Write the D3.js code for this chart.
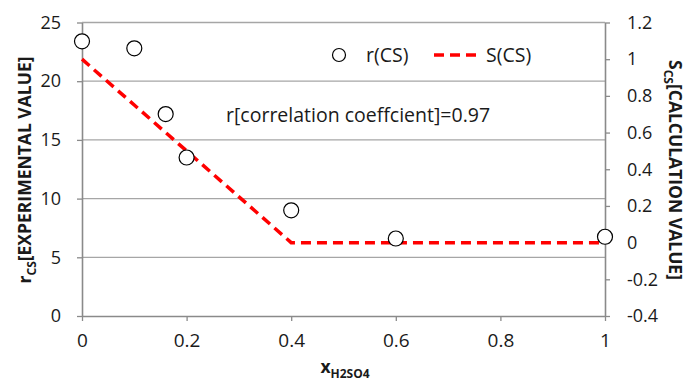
<!DOCTYPE html>
<html><head><meta charset="utf-8">
<script src="https://cdn.jsdelivr.net/npm/d3@7"></script>
<style>body{margin:0;background:#fff}svg{display:block}</style>
</head><body>
<script>
const xValues = [0, 0.1, 0.16, 0.2, 0.4, 0.6, 1];
const rValues = [23.4, 22.8, 17.2, 13.5, 9.0, 6.6, 6.75];
const sX = [0, 0.1, 0.16, 0.2, 0.4, 0.6, 1];
const sValues = [1, 0.75, 0.6, 0.5, 0, 0, 0];
const xTicks = [0, 0.2, 0.4, 0.6, 0.8, 1];
const yLeftTicks = [0, 5, 10, 15, 20, 25];
const yRightTicks = [-0.4, -0.2, 0, 0.2, 0.4, 0.6, 0.8, 1, 1.2];

const W = 687, H = 382;
const m = {l: 82, r: 605, t: 22.5, b: 316};
const font = "'Open Sans', sans-serif";
const txt = "#1a1a1a";
const svg = d3.select("body").append("svg").attr("width", W).attr("height", H);

const x = d3.scaleLinear().domain([0, 1]).range([m.l, m.r]);
const yL = d3.scaleLinear().domain([0, 25]).range([m.b, m.t]);
const yR = d3.scaleLinear().domain([-0.4, 1.2]).range([m.b, m.t]);

// gridlines
svg.append("g").selectAll("line").data(yLeftTicks.filter(d => d > 0)).join("line")
  .attr("x1", m.l).attr("x2", m.r).attr("y1", d => yL(d)).attr("y2", d => yL(d))
  .attr("stroke", "#a6a6a6").attr("stroke-width", 1.3);

const axisColor = "#8a8a8a";
function styleAxis(g, fs) {
  g.selectAll("path").attr("stroke", axisColor).attr("stroke-width", 1.6);
  g.selectAll("line").attr("stroke", axisColor).attr("stroke-width", 1.3);
  g.selectAll("text").attr("font-family", font).attr("font-size", fs).attr("fill", txt);
}
const gx = svg.append("g").attr("transform", `translate(0,${m.b})`)
  .call(d3.axisBottom(x).tickValues(xTicks).tickFormat(d3.format("")).tickSize(5).tickSizeOuter(0).tickPadding(13));
styleAxis(gx, 19);
const gl = svg.append("g").attr("transform", `translate(${m.l},0)`)
  .call(d3.axisLeft(yL).tickValues(yLeftTicks).tickSize(5).tickSizeOuter(0).tickPadding(16));
styleAxis(gl, 18);
const gr = svg.append("g").attr("transform", `translate(${m.r},0)`)
  .call(d3.axisRight(yR).tickValues(yRightTicks).tickFormat(d3.format("")).tickSize(5).tickSizeOuter(0).tickPadding(17));
styleAxis(gr, 18);
gr.selectAll("text").text(d => d3.format("")(d).replace("−", "-"));

// S(CS) dashed line
const line = d3.line().x((d, i) => x(sX[i])).y(d => yR(d));
svg.append("path").datum(sValues).attr("d", line)
  .attr("fill", "none").attr("stroke", "#ff0000").attr("stroke-width", 3.5)
  .attr("stroke-dasharray", "10,6");

// r(CS) points
svg.append("g").selectAll("circle").data(rValues).join("circle")
  .attr("cx", (d, i) => x(xValues[i])).attr("cy", d => yL(d)).attr("r", 7.5)
  .attr("fill", "#fff").attr("stroke", "#000").attr("stroke-width", 1.2);

// legend
const lg = svg.append("g");
lg.append("circle").attr("cx", 339).attr("cy", 55).attr("r", 6.5)
  .attr("fill", "#fff").attr("stroke", "#000").attr("stroke-width", 1.2);
lg.append("text").attr("x", 366).attr("y", 62).text("r(CS)")
  .attr("font-family", font).attr("font-size", 19.5).attr("fill", txt);
lg.append("line").attr("x1", 434).attr("x2", 476).attr("y1", 55).attr("y2", 55)
  .attr("stroke", "#ff0000").attr("stroke-width", 3.5).attr("stroke-dasharray", "10,6");
lg.append("text").attr("x", 486).attr("y", 62).text("S(CS)")
  .attr("font-family", font).attr("font-size", 19.5).attr("fill", txt);

// annotation
svg.append("text").attr("x", 226).attr("y", 122).text("r[correlation coeffcient]=0.97")
  .attr("font-family", font).attr("font-size", 19.5).attr("fill", txt);

// axis titles
const lt = svg.append("text").attr("transform", "translate(31,170) rotate(-90)")
  .attr("text-anchor", "middle").attr("font-family", font).attr("font-weight", "bold")
  .attr("font-size", 17.5).attr("fill", txt);
lt.append("tspan").text("r");
lt.append("tspan").attr("font-size", 12).attr("dy", 5).text("CS");
lt.append("tspan").attr("dy", -5).text("[EXPERIMENTAL VALUE]");

const rt = svg.append("text").attr("transform", "translate(669,170) rotate(90)")
  .attr("text-anchor", "middle").attr("font-family", font).attr("font-weight", "bold")
  .attr("font-size", 17.5).attr("fill", txt);
rt.append("tspan").text("S");
rt.append("tspan").attr("font-size", 12).attr("dy", 5).text("CS");
rt.append("tspan").attr("dy", -5).text("[CALCULATION VALUE]");

const xt = svg.append("text").attr("x", 345).attr("y", 373)
  .attr("text-anchor", "middle").attr("font-family", font).attr("font-weight", "bold")
  .attr("font-size", 17.5).attr("fill", txt);
xt.append("tspan").text("x");
xt.append("tspan").attr("font-size", 12).attr("dy", 5).text("H2SO4");
</script>
</body></html>
